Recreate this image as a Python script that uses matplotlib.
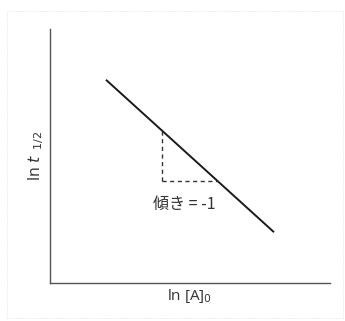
import matplotlib
matplotlib.use("Agg")
import matplotlib.pyplot as plt
from matplotlib.patches import Rectangle

plt.rcParams['font.family'] = ['Open Sans', 'Noto Sans CJK JP', 'DejaVu Sans']
plt.rcParams['mathtext.fontset'] = 'dejavusans'

# data (schematic)
line_x = [2.0, 8.0]
line_y = [8.0, 2.0]
tri_vert_x = [4.0, 4.0]
tri_vert_y = [6.0, 4.0]
tri_horiz_x = [4.0, 6.0]
tri_horiz_y = [4.0, 4.0]
slope_label = "傾き = -1"
xlabel = "ln [A]$_0$"
ylabel = "ln $\\mathit{t}_{\\ \\ 1/2}$"

fig = plt.figure(figsize=(3.45, 3.21), dpi=100)
fig.patch.set_facecolor('white')
ax = fig.add_axes([50/345, 38/321, 280/345, 254/321])
ax.set_xlim(0, 10)
ax.set_ylim(0, 10)

ax.plot(line_x, line_y, color='#1a1a1a', lw=1.4, solid_capstyle='butt')
ax.plot(tri_vert_x, tri_vert_y, color='#333333', lw=1.0, ls=(0, (3, 2.5)))
ax.plot(tri_horiz_x, tri_horiz_y, color='#333333', lw=1.0, ls=(0, (3, 2.5)))
ax.text(4.8, 3.1, slope_label, ha='center', va='center', fontsize=11.5, color='#333333',
        family=['Noto Sans CJK JP', 'DejaVu Sans'])

for s in ['top', 'right']:
    ax.spines[s].set_visible(False)
for s in ['left', 'bottom']:
    ax.spines[s].set_color('#555555')
    ax.spines[s].set_linewidth(1.0)
ax.set_xticks([])
ax.set_yticks([])
ax.set_xlabel(xlabel, fontsize=11, color='#333333', labelpad=3)
ax.set_ylabel(ylabel, fontsize=11.5, color='#333333', labelpad=3)

fig.patches.append(Rectangle((7/345, 3/321), 336/345, 307/321, transform=fig.transFigure,
                             fill=False, edgecolor='#dddddd', lw=0.6, ls=':'))

fig.savefig('out.png', dpi=100, facecolor='white')
